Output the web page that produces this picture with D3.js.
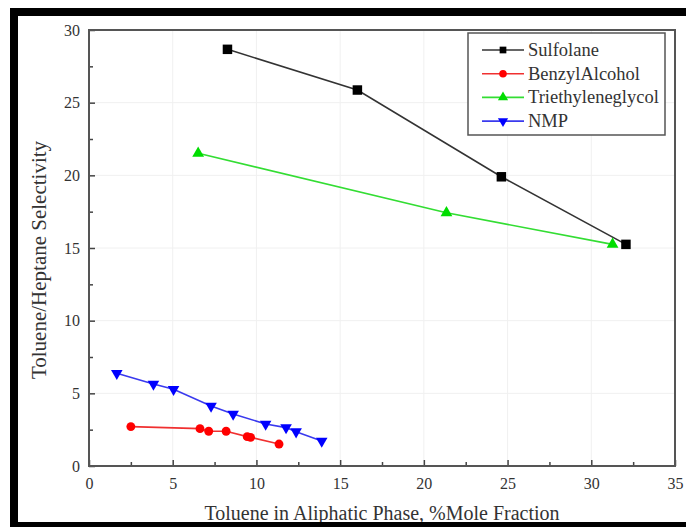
<!DOCTYPE html>
<html>
<head>
<meta charset="utf-8">
<script src="https://cdn.jsdelivr.net/npm/d3@7"></script>
<style>
  body { margin: 0; background: #fff; }
  svg text { font-family: "Liberation Serif", "DejaVu Serif", serif; fill: #333; }
</style>
</head>
<body>
<svg id="chart" width="686" height="527"></svg>
<script>
// series data
const sulfolaneX = [8.27, 16.03, 24.63, 32.07];
const sulfolaneY = [28.67, 25.87, 19.9, 15.25];

const benzylX = [2.5, 6.63, 7.15, 8.19, 9.45, 9.65, 11.35];
const benzylY = [2.71, 2.57, 2.39, 2.39, 2.02, 1.97, 1.51];

const tegX = [6.52, 21.35, 31.27];
const tegY = [21.52, 17.42, 15.25];

const nmpX = [1.66, 3.85, 5.05, 7.29, 8.61, 10.55, 11.77, 12.37, 13.9];
const nmpY = [6.38, 5.64, 5.28, 4.13, 3.58, 2.89, 2.64, 2.36, 1.72];

const seriesNames = ['Sulfolane', 'BenzylAlcohol', 'Triethyleneglycol', 'NMP'];
const xTicks = [0, 5, 10, 15, 20, 25, 30, 35];
const yTicks = [0, 5, 10, 15, 20, 25, 30];

const series = [
    {name: seriesNames[0], xs: sulfolaneX, ys: sulfolaneY, line: '#333', fill: '#000', sym: d3.symbolSquare, size: 90, rot: 0},
    {name: seriesNames[1], xs: benzylX, ys: benzylY, line: '#f03030', fill: '#ff0000', sym: d3.symbolCircle, size: 62, rot: 0},
    {name: seriesNames[2], xs: tegX, ys: tegY, line: '#33dd33', fill: '#00dd00', sym: d3.symbolTriangle, size: 60, rot: 0},
    {name: seriesNames[3], xs: nmpX, ys: nmpY, line: '#3a3aee', fill: '#0000ff', sym: d3.symbolTriangle, size: 58, rot: 180}
];

const svg = d3.select('#chart');
const plotL = 89, plotR = 675, plotT = 30, plotB = 466;

const x = d3.scaleLinear().domain([0, 35]).range([plotL, plotR]);
const y = d3.scaleLinear().domain([0, 30]).range([plotB, plotT]);

// faint grid
svg.append('g')
    .selectAll('line')
    .data(xTicks.slice(1, -1))
    .join('line')
    .attr('x1', d => x(d)).attr('x2', d => x(d))
    .attr('y1', plotT).attr('y2', plotB)
    .attr('stroke', '#f0f0f0').attr('stroke-width', 1);

svg.append('g')
    .selectAll('line')
    .data(yTicks.slice(1, -1))
    .join('line')
    .attr('y1', d => y(d)).attr('y2', d => y(d))
    .attr('x1', plotL).attr('x2', plotR)
    .attr('stroke', '#f0f0f0').attr('stroke-width', 1);

// axes, ticks pointing inward
const xAxis = svg.append('g')
    .attr('transform', `translate(0,${plotB})`)
    .call(d3.axisBottom(x).tickValues(d3.range(0, 35.1, 2.5)).tickSize(-6).tickPadding(12)
        .tickFormat(d => d % 5 === 0 ? d : ''));
xAxis.selectAll('.tick line').attr('y2', d => d % 5 === 0 ? -6 : -4);

const yAxis = svg.append('g')
    .attr('transform', `translate(${plotL},0)`)
    .call(d3.axisLeft(y).tickValues(d3.range(0, 30.1, 2.5)).tickSize(-6).tickPadding(9)
        .tickFormat(d => d % 5 === 0 ? d : ''));
yAxis.selectAll('.tick line').attr('x2', d => d % 5 === 0 ? 6 : 4);

[xAxis, yAxis].forEach(g => {
    g.attr('font-family', 'Liberation Serif, serif');
    g.select('.domain').remove();
    g.selectAll('.tick line').attr('stroke', '#444').attr('stroke-width', 1.5);
    g.selectAll('.tick text')
        .attr('font-family', 'Liberation Serif, serif')
        .style('font-size', '16px')
        .attr('fill', '#555');
});

// frame
svg.append('rect')
    .attr('x', plotL).attr('y', plotT)
    .attr('width', plotR - plotL).attr('height', plotB - plotT)
    .attr('fill', 'none').attr('stroke', '#555').attr('stroke-width', 2);

// lines and markers
const line = d3.line().x(d => x(d[0])).y(d => y(d[1]));

series.forEach(s => {
    const pts = s.xs.map((v, i) => [v, s.ys[i]]);
    svg.append('path')
        .datum(pts)
        .attr('d', line)
        .attr('fill', 'none')
        .attr('stroke', s.line)
        .attr('stroke-width', 1.6);
    svg.append('g')
        .selectAll('path')
        .data(pts)
        .join('path')
        .attr('d', d3.symbol().type(s.sym).size(s.size))
        .attr('transform', d => `translate(${x(d[0])},${y(d[1])}) rotate(${s.rot})`)
        .attr('fill', s.fill);
});

// legend
const lg = svg.append('g');
lg.append('rect')
    .attr('x', 468).attr('y', 33)
    .attr('width', 197).attr('height', 102)
    .attr('fill', '#fff').attr('stroke', '#555').attr('stroke-width', 1.5);

series.forEach((s, i) => {
    const ly = 50 + i * 23.7;
    lg.append('line')
        .attr('x1', 482).attr('x2', 524)
        .attr('y1', ly).attr('y2', ly)
        .attr('stroke', s.line).attr('stroke-width', 1.6);
    lg.append('path')
        .attr('d', d3.symbol().type(s.sym).size(45))
        .attr('transform', `translate(503,${ly}) rotate(${s.rot})`)
        .attr('fill', s.fill);
    lg.append('text')
        .attr('x', 528).attr('y', ly + 6)
        .style('font-size', '18.5px')
        .text(s.name);
});

// axis titles
svg.append('text')
    .attr('transform', 'translate(46,260) rotate(-90)')
    .attr('text-anchor', 'middle')
    .style('font-size', '21px')
    .text('Toluene/Heptane Selectivity');

svg.append('text')
    .attr('x', 382).attr('y', 520)
    .attr('text-anchor', 'middle')
    .style('font-size', '20px')
    .text('Toluene in Aliphatic Phase, %Mole Fraction');

// black photo border
svg.append('rect').attr('x', 10).attr('y', 8).attr('width', 676).attr('height', 8).attr('fill', '#000');
svg.append('rect').attr('x', 10).attr('y', 8).attr('width', 8).attr('height', 519).attr('fill', '#000');
svg.append('rect').attr('x', 10).attr('y', 522).attr('width', 676).attr('height', 5).attr('fill', '#000');
</script>
</body>
</html>
